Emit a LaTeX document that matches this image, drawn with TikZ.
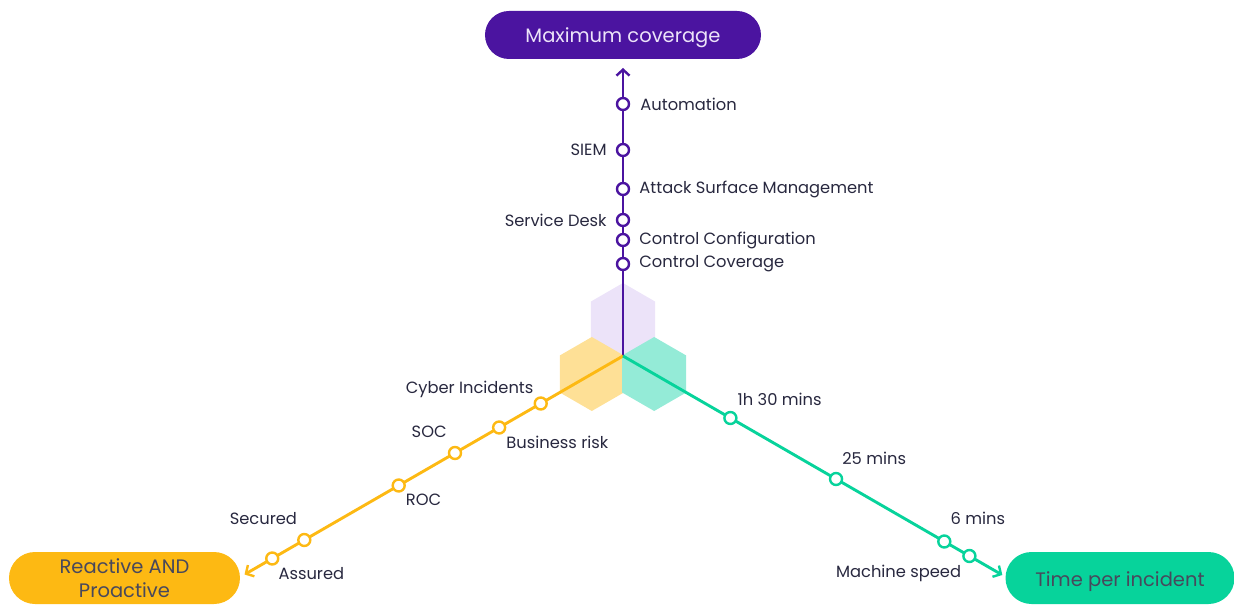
\documentclass[tikz,border=0pt]{standalone}
\usepackage{fontspec}
\setmainfont{Poppins}
\usetikzlibrary{positioning,arrows.meta}

\definecolor{vio}{HTML}{4B14A0}
\definecolor{amber}{HTML}{FDB913}
\definecolor{mint}{HTML}{07D39B}
\definecolor{viohex}{HTML}{ECE3F9}
\definecolor{amberhex}{HTML}{FEE096}
\definecolor{minthex}{HTML}{94EBD7}
\definecolor{ink}{HTML}{28283F}

\tikzset{
  dot/.style={circle,draw=#1,fill=white,line width=2.4pt,inner sep=0pt,minimum size=12pt},
  axis/.style={draw=#1,line width=2.9pt,-{Straight Barb[length=6pt,width=13pt,line width=2.4pt]}},
  lbl/.style={text=ink,font=\fontsize{16.3}{19}\selectfont,inner sep=1pt},
  pill/.style={fill=#1,minimum height=50pt,rounded corners=25pt,font=\fontsize{19.5}{24}\selectfont,align=center}
}

\begin{document}
\begin{tikzpicture}[x=1pt,y=1pt]
    \useasboundingbox (-623,-249) rectangle (611,356);
    \coordinate (o) at (0,0);
    % honeycomb behind the centre
    \foreach \c/\col in {{(0,36)}/viohex,{(210:36)}/amberhex,{(-30:36)}/minthex}
        \fill[\col] \c +(90:37) -- +(150:37) -- +(210:37) -- +(270:37) -- +(330:37) -- +(30:37) -- cycle;

    % end boxes
    \node[pill=vio,text=viohex,text height=16pt,text depth=0pt,minimum width=276pt,minimum height=48pt,rounded corners=24pt] (cov) at (0,321) {Maximum coverage};
    \node[pill=amber,text=ink!85,minimum width=231pt,minimum height=52pt,rounded corners=26pt] (react) at (-498.5,-222) {Reactive AND\\Proactive};
    \node[pill=mint,text=ink!85,text height=16pt,text depth=0pt,minimum width=229pt,minimum height=52pt,rounded corners=26pt] (time) at (497,-222) {Time per incident};

    \coordinate (ptip) at (90:288);
    \coordinate (ytip) at (210:437);
    \coordinate (gtip) at (-30:438);
    \draw[axis=vio] (o) -- (ptip);
    \draw[axis=amber] (o) -- (ytip);
    \draw[axis=mint] (o) -- (gtip);

    \foreach \d [count=\i] in {252,206,167,136,116,92}
        \node[dot=vio] (p\i) at (90:\d) {};
    \foreach \d [count=\i] in {95,143,194,259,368,405}
        \node[dot=amber] (y\i) at (210:\d) {};
    \foreach \d [count=\i] in {124,246,371,400}
        \node[dot=mint] (g\i) at (-30:\d) {};

    \node[lbl,right=9pt of p1] (auto) {Automation};
    \node[lbl,left=8pt of p2] (siem) {SIEM};
    \node[lbl,right=8pt of p3] (asm) {Attack Surface Management};
    \node[lbl,left=8pt of p4] (desk) {Service Desk};
    \node[lbl,right=8pt of p5] (conf) {Control Configuration};
    \node[lbl,right=8pt of p6] (covg) {Control Coverage};

    \node[lbl,above left=0pt and 1pt of y1] (cyber) {Cyber Incidents};
    \node[lbl,below right=2pt and 1pt of y2] (risk) {Business risk};
    \node[lbl,above left=9pt and 2pt of y3] (soc) {SOC};
    \node[lbl,below right=2pt and 1pt of y4] (roc) {ROC};
    \node[lbl,above left=9pt and 1pt of y5] (sec) {Secured};
    \node[lbl,below right=3pt and 0pt of y6] (ass) {Assured};

    \node[lbl,above right=6pt and 1pt of g1] (t90) {1h 30 mins};
    \node[lbl,above right=8pt and 0pt of g2] (t25) {25 mins};
    \node[lbl,above right=11pt and 0pt of g3] (t6) {6 mins};
    \node[lbl,below left=3pt and 2pt of g4] (mach) {Machine speed};
\end{tikzpicture}
\end{document}
